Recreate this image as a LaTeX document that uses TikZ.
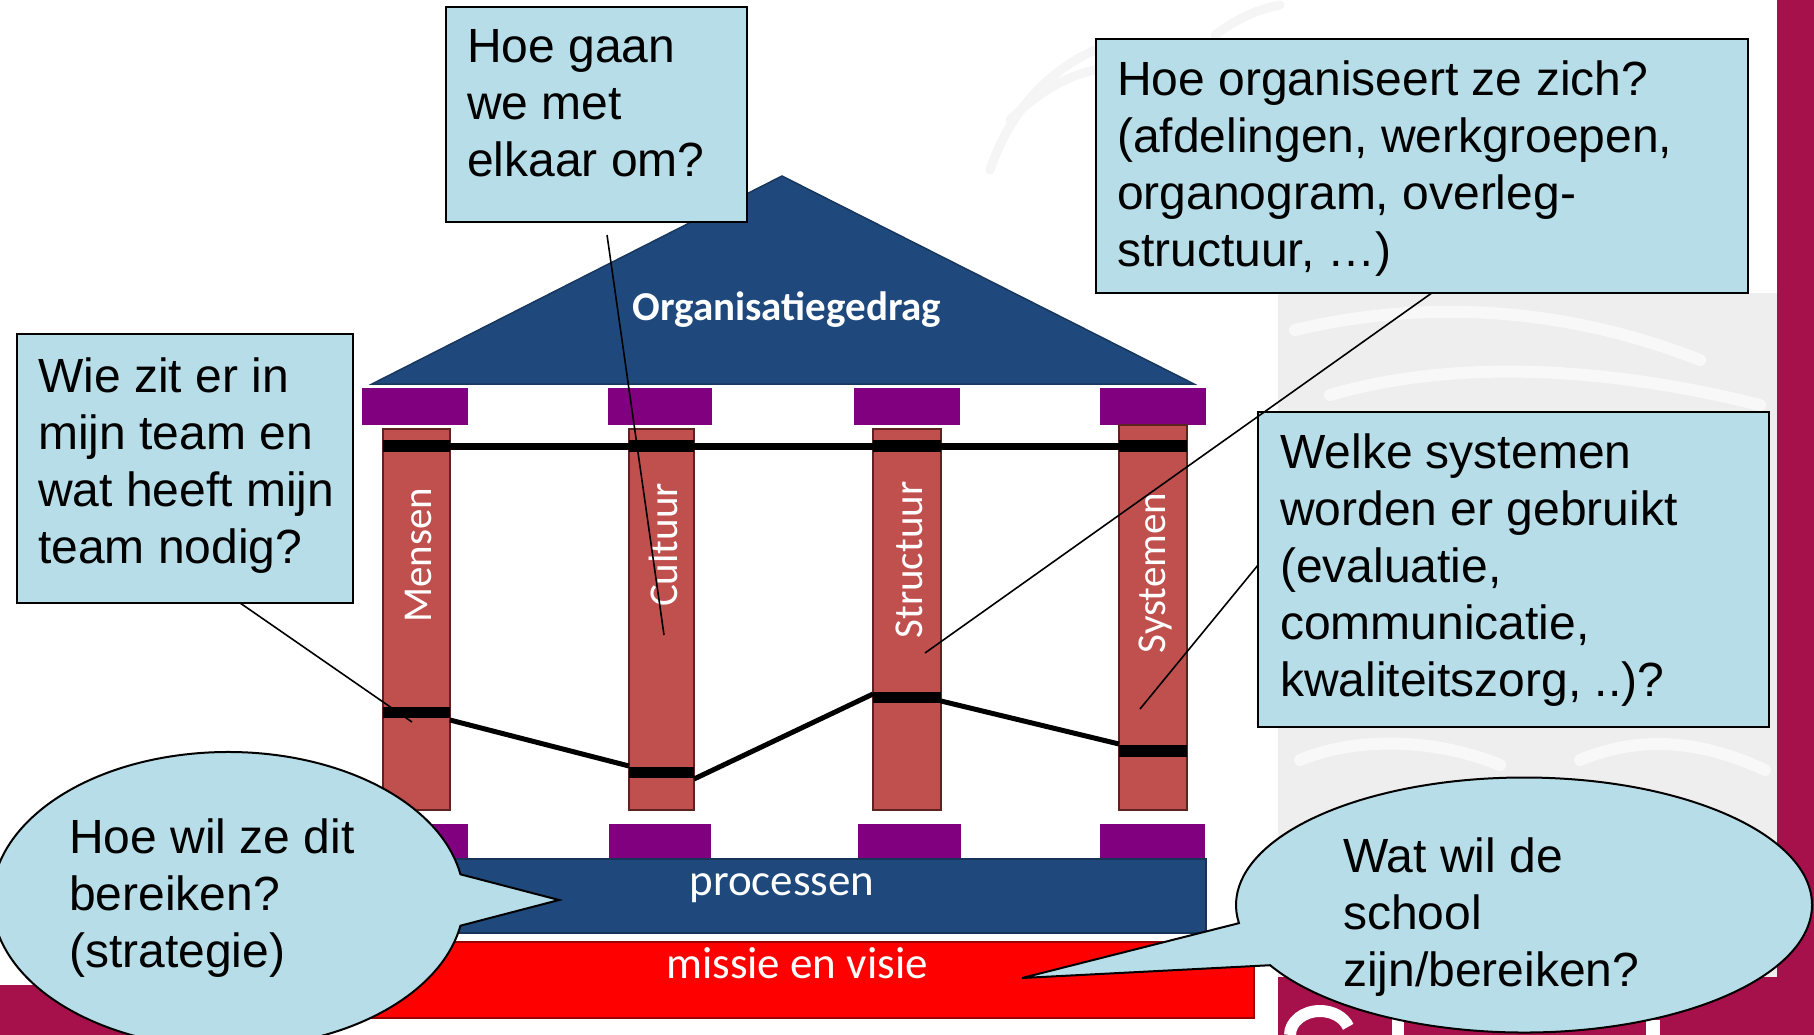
\documentclass[tikz,border=0pt]{standalone}
\usepackage{fontspec}
\setmainfont{Liberation Sans}
\newfontfamily\labelfont{Carlito}
\usetikzlibrary{fit,shapes.callouts,calc}

\definecolor{qfill}{HTML}{B7DEE8}
\definecolor{roofblue}{HTML}{1F497D}
\definecolor{capitalpurple}{HTML}{800080}
\definecolor{pillarred}{HTML}{C0504D}
\definecolor{pillaredge}{HTML}{5C2321}
\definecolor{brand}{HTML}{A6114C}
\definecolor{logogrey}{HTML}{EEEEEE}
\definecolor{faintgrey}{HTML}{F5F5F5}

\begin{document}
\begin{tikzpicture}[x=1pt,y=-1pt,
  rect/.style={fit={#1}, inner sep=0pt, outer sep=0pt},
  capital/.style={fill=capitalpurple},
  pillar/.style={fill=pillarred, draw=pillaredge, line width=1.5pt},
  band/.style={fill=black},
  tie/.style={draw=black, line width=5pt},
  qbox/.style={fill=qfill, draw=black, line width=2pt},
  % multi-line texts are placed by the baseline of their last line
  qtext/.style={anchor=base west, align=left, inner sep=0pt, font=\fontsize{48}{57}\selectfont},
  bubble/.style={ellipse callout, fill=qfill, draw=black, line width=2pt, inner sep=0pt, outer sep=0pt, callout pointer arc=20},
  pointer/.style={draw=black, line width=1.6pt},
  pillartext/.style={rotate=90, text=white, inner sep=0pt, font=\labelfont\fontsize{41}{41}\selectfont},
  bartext/.style={anchor=base, text=white, inner sep=0pt, font=\labelfont\fontsize{45}{45}\selectfont},
  swoosh/.style={draw=white!60!logogrey, line width=12pt, line cap=round},
  faint/.style={draw=faintgrey, line width=9pt, line cap=round}
]
\useasboundingbox (0,0) rectangle (1814,1035);

% ---------- background ----------
\fill[white] (0,0) rectangle (1814,1035);
\draw[faint] (990,170) .. controls (1010,110) and (1050,70) .. (1095,50);
\draw[faint] (1010,120) .. controls (1040,90) and (1070,75) .. (1095,70);
\draw[faint] (1215,35) .. controls (1235,20) and (1255,10) .. (1280,5);
\fill[logogrey] (1278,293) rectangle (1777,977);
\draw[swoosh] (1295,330) .. controls (1420,300) and (1560,305) .. (1700,360);
\draw[swoosh] (1330,395) .. controls (1450,360) and (1600,365) .. (1760,405);
\draw[swoosh] (1300,760) .. controls (1360,735) and (1440,740) .. (1500,765);
\draw[swoosh] (1580,760) .. controls (1640,735) and (1700,740) .. (1765,770);
\fill[brand] (1777,0) rectangle (1814,1035);
\fill[brand] (1278,977) rectangle (1814,1035);
\fill[brand] (0,985) rectangle (305,1035);
\draw[white, line width=12pt] (1290,1035) arc[start angle=180, end angle=20, x radius=30pt, y radius=24pt];
\fill[white] (1392,1010) rectangle (1404,1035);
\fill[white] (1646,1020) rectangle (1660,1035);

% ---------- roof ----------
\path[fill=roofblue, draw=roofblue!75!black, line width=1.5pt]
  (782,176) -- (1194,384) -- (372,384) -- cycle;
\node[anchor=base, text=white, inner sep=0pt, font=\labelfont\bfseries\fontsize{41}{41}\selectfont]
  (roofLabel) at (787,320) {Organisatiegedrag};

% ---------- capitals ----------
\node[rect={(362,388) (468,425)}, capital] (kM) {};
\node[rect={(608,388) (712,425)}, capital] (kC) {};
\node[rect={(854,388) (960,425)}, capital] (kS) {};
\node[rect={(1100,388) (1206,425)}, capital] (kY) {};
\node[rect={(362,824) (468,858)}, capital] (fM) {};
\node[rect={(609,824) (711,858)}, capital] (fC) {};
\node[rect={(858,824) (961,858)}, capital] (fS) {};
\node[rect={(1100,824) (1205,858)}, capital] (fY) {};

% ---------- pillars ----------
\node[rect={(383,429) (450,810)}, pillar] (pM) {};
\node[rect={(629,429) (694,810)}, pillar] (pC) {};
\node[rect={(873,429) (941,810)}, pillar] (pS) {};
\node[rect={(1119,425) (1187,810)}, pillar] (pY) {};

% upper level bands and beam
\node[rect={(383,440) (450,452)}, band] (uM) {};
\node[rect={(629,440) (694,452)}, band] (uC) {};
\node[rect={(873,440) (941,452)}, band] (uS) {};
\node[rect={(1119,440) (1187,452)}, band] (uY) {};
\draw[black, line width=7pt] (uM.east) -- (uY.west);

% lower level bands and zigzag
\node[rect={(383,707) (450,718)}, band] (lM) {};
\node[rect={(629,767) (694,778)}, band] (lC) {};
\node[rect={(873,692) (941,703)}, band] (lS) {};
\node[rect={(1119,745) (1187,757)}, band] (lY) {};
\draw[tie] ([yshift=-2pt]lM.south east) -- ([yshift=1pt]lC.north west);
\draw[tie] ([yshift=-1pt]lC.south east) -- ([yshift=-2pt]lS.north west);
\draw[tie] ([yshift=2pt]lS.south east) -- ([yshift=1pt]lY.north west);

\node[pillartext] (tM) at (418,555) {Mensen};
\node[pillartext] (tC) at (663,545) {Cultuur};
\node[pillartext] (tS) at (909,560) {Structuur};
\node[pillartext] (tY) at (1155,573) {Systemen};

% ---------- foundation ----------
\node[rect={(420,859) (1206,933)}, fill=roofblue, draw=roofblue!70!black, line width=1.5pt] (proc) {};
\node[bartext] (procLabel) at (782,895) {processen};
\node[rect={(300,942) (1254,1018)}, fill=red, draw=red!60!black, line width=1.5pt] (mission) {};
\node[bartext] (missionLabel) at (797,978) {missie en visie};

% ---------- question boxes ----------
\node[rect={(446,7) (747,222)}, qbox] (qA) {};
\node[qtext] (qAtext) at (467,177) {Hoe gaan\\we met\\elkaar om?};

\node[rect={(1096,39) (1748,293)}, qbox] (qB) {};
\node[qtext] (qBtext) at (1117,266) {Hoe organiseert ze zich?\\(afdelingen, werkgroepen,\\organogram, overleg-\\structuur, …)};

\node[rect={(17,334) (353,603)}, qbox] (qC) {};
\node[qtext] (qCtext) at (38,563) {Wie zit er in\\mijn team en\\wat heeft mijn\\team nodig?};

\node[rect={(1258,412) (1769,727)}, qbox] (qD) {};
\node[qtext] (qDtext) at (1280,696) {Welke systemen\\worden er gebruikt\\(evaluatie,\\communicatie,\\kwaliteitszorg, ..)?};

% pointer targets on the pillars
\coordinate (aTo) at (664,635);
\coordinate (bTo) at (925,653);
\coordinate (cTo) at (412,722);
\coordinate (dTo) at (1140,709);

\draw[pointer] ([yshift=-13pt]$(qA.south west)!0.535!(qA.south east)$) -- (aTo);
\draw[pointer] ($(qB.south west)!0.515!(qB.south east)$) -- (bTo);
\draw[pointer] ($(qC.south west)!0.664!(qC.south east)$) -- (cTo);
\draw[pointer] ($(qD.north west)!0.486!(qD.south west)$) -- (dTo);

% ---------- speech bubbles ----------
\node[bubble, minimum width=472pt, minimum height=296pt,
      callout absolute pointer={(559,900)}] (eL) at (228,900) {};
\node[qtext] (eLtext) at (69,967) {Hoe wil ze dit\\bereiken?\\(strategie)};

\node[bubble, minimum width=576pt, minimum height=255pt,
      callout absolute pointer={(1022,978)}] (eR) at (1524,905) {};
\node[qtext] (eRtext) at (1343,986) {Wat wil de\\school\\zijn/bereiken?};
\end{tikzpicture}
\end{document}
